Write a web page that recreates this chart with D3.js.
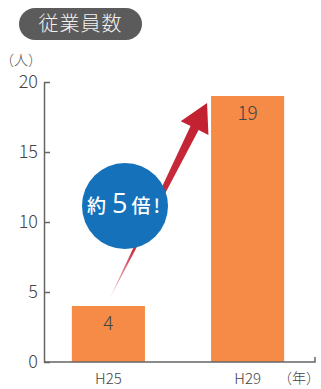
<!DOCTYPE html>
<html>
<head>
<meta charset="utf-8">
<script src="https://cdn.jsdelivr.net/npm/d3@7/dist/d3.min.js"></script>
<style>
  html, body { margin: 0; padding: 0; background: #fff; }
  svg { display: block; }
  text { font-family: "Noto Sans CJK JP", "Noto Sans", sans-serif; }
</style>
</head>
<body>
<svg id="chart" width="321" height="389"></svg>
<script>
// 従業員数の推移
const categories = ["H25", "H29"];
const values = [4, 19];
const yTicks = [0, 5, 10, 15, 20];
const title = "従業員数";
const yUnit = "（人）";
const xUnit = "（年）";
const badge = ["約", "5", "倍", "!"];

const svg = d3.select("#chart");

const x = d3.scaleBand()
  .domain(categories)
  .range([44, 312])
  .paddingInner(0.475)
  .paddingOuter(0.2);

const y = d3.scaleLinear().domain([0, 20]).range([362, 82]);

// title pill
const pill = svg.append("g");
pill.append("rect")
  .attr("x", 19).attr("y", 8).attr("width", 123).attr("height", 32)
  .attr("rx", 16).attr("fill", "#5b5b5b");
pill.append("text")
  .attr("x", 80.5).attr("y", 31)
  .attr("text-anchor", "middle")
  .attr("font-size", 20).attr("font-weight", 300)
  .attr("letter-spacing", 1)
  .attr("fill", "#f2f2f2")
  .text(title);

// unit label
svg.append("text")
  .attr("x", 0).attr("y", 65)
  .attr("font-size", 14).attr("font-weight", 300)
  .attr("fill", "#555")
  .text(yUnit);

// bars
svg.append("g").selectAll("rect")
  .data(categories)
  .join("rect")
  .attr("x", d => x(d))
  .attr("y", (d, i) => y(values[i]))
  .attr("width", x.bandwidth())
  .attr("height", (d, i) => y(0) - y(values[i]))
  .attr("fill", "#f58b47");

// value labels inside bars
svg.append("g").selectAll("text")
  .data(categories)
  .join("text")
  .attr("x", d => x(d) + x.bandwidth() / 2)
  .attr("y", (d, i) => y(values[i]) + 24)
  .attr("text-anchor", "middle")
  .attr("font-size", 19).attr("font-weight", 300)
  .attr("fill", "#444")
  .text((d, i) => values[i]);

// y axis with inward ticks
const yAxis = d3.axisLeft(y)
  .tickValues(yTicks)
  .tickSizeInner(-6)
  .tickSizeOuter(0)
  .tickPadding(6)
  .tickFormat(d3.format("d"));

const gy = svg.append("g")
  .attr("transform", "translate(44,0)")
  .call(yAxis);
gy.select(".domain").attr("stroke", "#666").attr("stroke-width", 1.5);
gy.selectAll(".tick line").attr("stroke", "#666").attr("stroke-width", 1.5);
gy.selectAll(".tick text")
  .attr("font-family", "\"Noto Sans CJK JP\", sans-serif")
  .attr("font-size", 18).attr("font-weight", 300)
  .attr("fill", "#444");

// baseline with an end tick
svg.append("path")
  .attr("d", `M44,${y(0)}H315V${y(0) - 5}`)
  .attr("fill", "none")
  .attr("stroke", "#666")
  .attr("stroke-width", 1.5);

// category labels
svg.append("g").selectAll("text")
  .data(categories)
  .join("text")
  .attr("x", d => x(d) + x.bandwidth() / 2)
  .attr("y", 384)
  .attr("text-anchor", "middle")
  .attr("font-size", 15).attr("font-weight", 300)
  .attr("fill", "#444")
  .text(d => d);

svg.append("text")
  .attr("x", 278).attr("y", 383)
  .attr("font-size", 14).attr("font-weight", 300)
  .attr("fill", "#444")
  .text(xUnit);

// growth arrow from the first bar to the second
const tail = [x(categories[0]) + x.bandwidth() / 2, y(values[0]) - 5];
const tip = [x(categories[1]) - 4, y(values[1]) + 7];
const dx = tip[0] - tail[0], dy = tip[1] - tail[1];
const len = Math.hypot(dx, dy);
const u = [dx / len, dy / len];
const n = [-u[1], u[0]];
const headLen = 28, headHalf = 15.5, shaftHalf = 4.5;
const base = [tip[0] - u[0] * headLen, tip[1] - u[1] * headLen];
const pt = (p, s) => [p[0] + n[0] * s, p[1] + n[1] * s];
const arrowPts = [
  tail,
  pt(base, shaftHalf),
  pt(base, headHalf),
  tip,
  pt(base, -headHalf),
  pt(base, -shaftHalf)
];

const defs = svg.append("defs");
const grad = defs.append("linearGradient")
  .attr("id", "arrowGrad")
  .attr("gradientUnits", "userSpaceOnUse")
  .attr("x1", tail[0]).attr("y1", tail[1])
  .attr("x2", tip[0]).attr("y2", tip[1]);
grad.append("stop").attr("offset", 0).attr("stop-color", "#c41e32").attr("stop-opacity", 0.1);
grad.append("stop").attr("offset", 0.25).attr("stop-color", "#c41e32").attr("stop-opacity", 0.9);
grad.append("stop").attr("offset", 1).attr("stop-color", "#c11f2f").attr("stop-opacity", 1);

svg.append("path")
  .attr("d", d3.line()(arrowPts) + "Z")
  .attr("fill", "url(#arrowGrad)");

// badge
const bg = svg.append("g");
bg.append("circle")
  .attr("cx", 125).attr("cy", 206).attr("r", 43)
  .attr("fill", "#1571b9");
const bt = bg.append("text")
  .attr("x", 87).attr("y", 213)
  .attr("fill", "#fff")
  .attr("font-weight", 500);
bt.append("tspan").attr("font-size", 19).text(badge[0]);
bt.append("tspan").attr("dx", 6).attr("font-size", 27).attr("font-family", "\"Open Sans\", sans-serif").text(badge[1]);
bt.append("tspan").attr("dx", 4).attr("font-size", 19).text(badge[2]);
bt.append("tspan").attr("dx", 3).attr("font-size", 19).text(badge[3]);
</script>
</body>
</html>
